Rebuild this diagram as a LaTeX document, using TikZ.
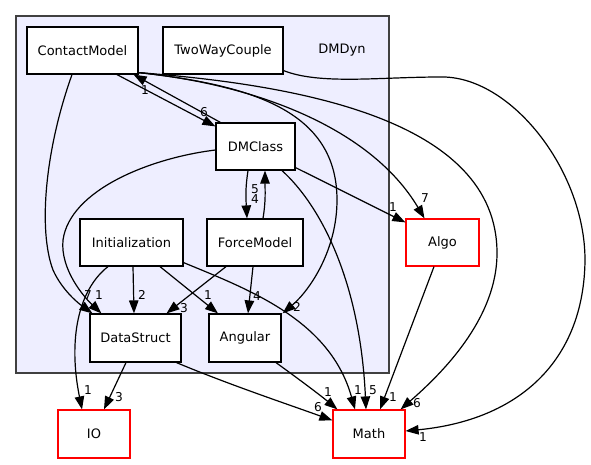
\documentclass[tikz,border=0pt]{standalone}
\usepackage{fontspec}
\setmainfont{DejaVu Sans}
\usetikzlibrary{arrows.meta}
\definecolor{clfill}{HTML}{EEEEFF}
\definecolor{clborder}{HTML}{404040}
\begin{document}
\begin{tikzpicture}[x=1pt,y=-1pt,
  every node/.style={font=\fontsize{13}{15}\selectfont},
  dirbox/.style={draw=black,fill=white,line width=1.2pt,inner sep=0pt,minimum height=47pt},
  extbox/.style={draw=red,fill=white,line width=1.2pt,inner sep=0pt,minimum height=47pt},
  dep/.style={draw=black,line width=1.2pt,-{Triangle[length=13pt,width=9.5pt]}},
  lbl/.style={inner sep=0pt,font=\fontsize{12.2}{14}\selectfont}
]
\useasboundingbox[fill=white] (0,0) rectangle (591,464);
% cluster
\draw[fill=clfill,draw=clborder,line width=1.2pt] (16,16) rectangle (389,373);
\node[inner sep=0pt] (dmdyn) at (342,50) {DMDyn};
% nodes
\node[dirbox,minimum width=111pt] (cm) at (82.5,50.5) {ContactModel};
\node[dirbox,minimum width=120pt] (twc) at (223,50.5) {TwoWayCouple};
\node[dirbox,minimum width=79pt] (dmc) at (255.5,146.5) {DMClass};
\node[dirbox,minimum width=103pt] (init) at (131.5,242.5) {Initialization};
\node[dirbox,minimum width=96pt] (fm) at (255,242.5) {ForceModel};
\node[dirbox,minimum width=91pt,minimum height=48pt] (ds) at (135.5,338) {DataStruct};
\node[dirbox,minimum width=72pt,minimum height=48pt] (ang) at (245,338) {Angular};
\node[extbox,minimum width=73pt] (algo) at (442.5,242.5) {Algo};
\node[extbox,minimum width=72pt,minimum height=48pt] (io) at (94,434) {IO};
\node[extbox,minimum width=72pt,minimum height=48pt] (math) at (369,434) {Math};
% edges
\draw[dep] ([xshift=34.5pt]cm.south) -- ([yshift=-4pt]dmc.north west);
\draw[dep] ([xshift=5pt]dmc.north west) -- ([xshift=-5pt]cm.south east);
\draw[dep] ([xshift=-10.5pt]cm.south) .. controls (45,150) and (38,230) .. (53,270) .. controls (62,290) and (78,303) .. ([xshift=3pt]ds.north west);
\draw[dep] ([yshift=-3.5pt]dmc.west) .. controls (150,158) and (70,190) .. (63,240) .. controls (60,270) and (85,298) .. ([xshift=12pt]ds.north west);
\draw[dep] ([xshift=1.5pt]init.south) -- ([xshift=-1.5pt]ds.north);
\draw[dep] ([xshift=-29pt]fm.south) -- ([xshift=31pt]ds.north);
\draw[dep] ([xshift=28.5pt]init.south) -- ([xshift=-27pt]ang.north);
\draw[dep] ([xshift=-2pt]fm.south) -- ([xshift=3pt]ang.north);
\draw[dep] ([yshift=2pt]cm.south east) .. controls (250,85) and (337,110) .. (337,200) .. controls (337,250) and (310,290) .. ([xshift=1pt]ang.north east);
\draw[dep] ([xshift=-7.5pt]dmc.south) .. controls (245,190) and (246,200) .. ([xshift=-8pt]fm.north);
\draw[dep] ([xshift=8pt]fm.north) .. controls (266,200) and (265,190) .. ([xshift=9.5pt]dmc.south);
\draw[dep] ([yshift=3pt]dmc.south east) -- ([yshift=-4pt]algo.north west);
\draw[dep] ([yshift=2pt]cm.south east) .. controls (260,85) and (372,130) .. ([xshift=-18pt]algo.north);
\draw[dep] ([yshift=2pt]cm.south east) .. controls (300,85) and (497,120) .. (497,253) .. controls (497,320) and (440,375) .. ([xshift=-5pt]math.north east);
\draw[dep] ([yshift=4pt]twc.south east) .. controls (320,85) and (380,77) .. (440,77) .. controls (510,75) and (585,170) .. (585,260) .. controls (584,360) and (520,420) .. ([yshift=3pt]math.east);
\draw[dep] ([xshift=26.5pt]dmc.south) .. controls (320,205) and (360,280) .. ([xshift=-3pt]math.north);
\draw[dep] ([yshift=4pt]init.south east) .. controls (250,290) and (330,320) .. ([xshift=-14pt]math.north);
\draw[dep] ([xshift=31pt]ang.south) .. controls (300,380) and (320,395) .. ([xshift=5pt]math.north west);
\draw[dep] ([xshift=41pt]ds.south) .. controls (230,385) and (290,405) .. ([yshift=-11pt]math.north west);
\draw[dep] ([xshift=-8.5pt]algo.south) -- ([xshift=11pt]math.north);
\draw[dep] ([xshift=-23.5pt]init.south) .. controls (78,290) and (68,340) .. ([xshift=-12pt]io.north);
\draw[dep] ([xshift=-9.5pt]ds.south) -- ([xshift=10pt]io.north);
% labels
\node[lbl] (l1) at (204,112) {6};
\node[lbl] (l2) at (145,90) {1};
\node[lbl] (l3) at (255,189) {5};
\node[lbl] (l4) at (255,199.5) {4};
\node[lbl] (l5) at (393,207) {1};
\node[lbl] (l6) at (425,198) {7};
\node[lbl] (l7) at (88,295) {7};
\node[lbl] (l8) at (99,295) {1};
\node[lbl] (l9) at (142,295) {2};
\node[lbl] (l10) at (208,295) {1};
\node[lbl] (l11) at (184,308) {3};
\node[lbl] (l12) at (257,296) {4};
\node[lbl] (l13) at (297,307) {2};
\node[lbl] (l14) at (328,392) {1};
\node[lbl] (l15) at (318,407) {6};
\node[lbl] (l16) at (358,390) {1};
\node[lbl] (l17) at (373,390) {5};
\node[lbl] (l18) at (393,397) {1};
\node[lbl] (l19) at (417,403) {6};
\node[lbl] (l20) at (423,437) {1};
\node[lbl] (l21) at (88,390) {1};
\node[lbl] (l22) at (119,397) {3};
\end{tikzpicture}
\end{document}
